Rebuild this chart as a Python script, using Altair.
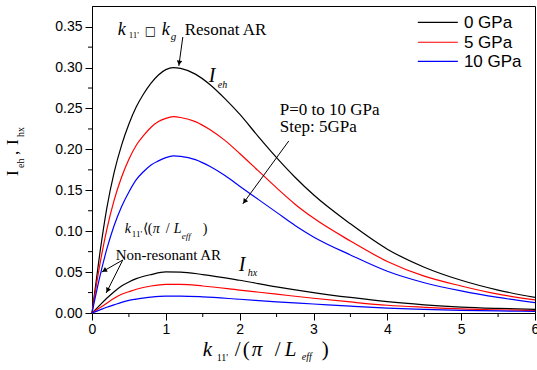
import math
import altair as alt
import pandas as pd

# ---------------- data ----------------
pressures = ["0 GPa", "5 GPa", "10 GPa"]
colors = ["#000000", "#ff0000", "#0000ff"]

x_eh = [0, 0.1, 0.2, 0.3, 0.4, 0.5, 0.6, 0.7, 0.8, 0.9, 1.0, 1.1, 1.2, 1.4, 1.6, 1.8,
        2.0, 2.25, 2.5, 2.75, 3.0, 3.5, 4.0, 4.5, 5.0, 5.5, 6.0]
ieh_0 = [0, 0.069, 0.128, 0.172, 0.205, 0.231, 0.252, 0.268, 0.281, 0.291, 0.2975,
         0.300, 0.299, 0.292, 0.279, 0.262, 0.243, 0.216, 0.190, 0.166, 0.1445,
         0.109, 0.078, 0.056, 0.040, 0.028, 0.019]
ieh_5 = [0, 0.056, 0.102, 0.138, 0.166, 0.188, 0.205, 0.217, 0.227, 0.234, 0.238,
         0.240, 0.239, 0.234, 0.224, 0.211, 0.195, 0.174, 0.153, 0.133, 0.116,
         0.088, 0.063, 0.045, 0.033, 0.023, 0.016]
ieh_10 = [0, 0.042, 0.078, 0.107, 0.130, 0.148, 0.163, 0.173, 0.181, 0.186, 0.190,
          0.192, 0.1915, 0.1875, 0.179, 0.168, 0.155, 0.139, 0.123, 0.107, 0.093,
          0.071, 0.051, 0.037, 0.027, 0.019, 0.0126]

x_hx = [0, 0.1, 0.2, 0.3, 0.4, 0.5, 0.6, 0.8, 1.0, 1.2, 1.5, 2.0, 2.5, 3.0, 3.5,
        4.0, 4.5, 5.0, 5.5, 6.0]
ihx_0 = [0, 0.009, 0.018, 0.026, 0.033, 0.038, 0.042, 0.047, 0.0502, 0.0500, 0.047,
         0.040, 0.032, 0.025, 0.019, 0.0138, 0.010, 0.0072, 0.0056, 0.0045]
ihx_5 = [0, 0.006, 0.012, 0.018, 0.023, 0.026, 0.029, 0.033, 0.035, 0.035, 0.033,
         0.028, 0.023, 0.018, 0.0135, 0.0095, 0.007, 0.005, 0.004, 0.003]
ihx_10 = [0, 0.0035, 0.007, 0.010, 0.013, 0.0155, 0.017, 0.0195, 0.0207, 0.0207,
          0.0198, 0.0168, 0.0136, 0.011, 0.0083, 0.006, 0.0045, 0.0033, 0.0025, 0.002]

x_ticks = [0, 1, 2, 3, 4, 5, 6]
x_minor = [0.5, 1.5, 2.5, 3.5, 4.5, 5.5]
y_ticks = [0.0, 0.05, 0.10, 0.15, 0.20, 0.25, 0.30, 0.35]
y_minor = [0.025, 0.075, 0.125, 0.175, 0.225, 0.275, 0.325]

# ---------------- layout ----------------
W, H = 443, 307
XMAX, YMAX = 6.0, 0.3753
SERIF = "Liberation Serif"
SANS = "Liberation Sans"

rows = []
for p, ys in zip(pressures, [ieh_0, ieh_5, ieh_10]):
    for xv, yv in zip(x_eh, ys):
        rows.append({"x": xv, "y": yv, "p": p, "kind": "eh"})
for p, ys in zip(pressures, [ihx_0, ihx_5, ihx_10]):
    for xv, yv in zip(x_hx, ys):
        rows.append({"x": xv, "y": yv, "p": p, "kind": "hx"})
df = pd.DataFrame(rows)

xs = alt.Scale(domain=[0, XMAX], nice=False, zero=False)
ys_ = alt.Scale(domain=[0, YMAX], nice=False, zero=False)
cs = alt.Scale(domain=pressures, range=colors)
ax_x = alt.Axis(values=x_ticks, format="d", title=None, tickSize=7, labelPadding=2,
                labelFlush=False)
ax_y = alt.Axis(values=y_ticks, format=".2f", title=None, tickSize=7, labelPadding=3,
                labelFlush=False)


def X(field):
    return alt.X(field, scale=xs, axis=ax_x, title=None)


def Y(field):
    return alt.Y(field, scale=ys_, axis=ax_y, title=None)


lines = alt.Chart(df).mark_line(strokeWidth=1.2, interpolate="monotone").encode(
    x=X("x:Q"), y=Y("y:Q"),
    color=alt.Color("p:N", scale=cs, legend=None),
    detail="kind:N",
)

minor_y = alt.Chart(pd.DataFrame({"v": y_minor})).mark_rule(color="black").encode(
    y=Y("v:Q"), x=alt.value(-4), x2=alt.value(0))
minor_x = alt.Chart(pd.DataFrame({"v": x_minor})).mark_rule(color="black").encode(
    x=X("v:Q"), y=alt.value(H), y2=alt.value(H + 4))

# legend (drawn by hand, in data coordinates)
leg = pd.DataFrame({"p": pressures, "x0": [4.413] * 3, "x1": [4.955] * 3,
                    "y": [0.3554, 0.3310, 0.3077], "tx": [5.037] * 3})
leg_lines = alt.Chart(leg).mark_rule(strokeWidth=1.2).encode(
    x=X("x0:Q"), x2="x1:Q", y=Y("y:Q"),
    color=alt.Color("p:N", scale=cs, legend=None))
leg_text = alt.Chart(leg).mark_text(align="left", baseline="middle", font=SANS,
                                    fontSize=17, color="black", dy=1).encode(
    x=X("tx:Q"), y=Y("y:Q"), text="p:N")

# arrows
arrows = pd.DataFrame({
    "x0": [1.230, 2.665, 0.417, 0.417],
    "y0": [0.3374, 0.2103, 0.0648, 0.0648],
    "x1": [1.176, 2.042, 0.131, 0.192],
    "y1": [0.302, 0.1333, 0.050, 0.0244],
})
sx, sy = W / XMAX, H / YMAX
angs, hx, hy = [], [], []
for a, b, c, d in zip(arrows.x0, arrows.y0, arrows.x1, arrows.y1):
    dxp = (c - a) * sx
    dyp = -(d - b) * sy
    ang = math.degrees(math.atan2(dxp, -dyp)) % 360
    L = math.hypot(dxp, dyp)
    back = 3.0
    hx.append(c - (dxp / L) * back / sx)
    hy.append(d + (dyp / L) * back / sy)
    angs.append(ang)
arrows["ang"] = angs
arrows["hx"] = hx
arrows["hy"] = hy

arrow_lines = alt.Chart(arrows).mark_rule(color="black", strokeWidth=1).encode(
    x=X("x0:Q"), y=Y("y0:Q"), x2="x1:Q", y2="y1:Q")
arrow_heads = alt.Chart(arrows).mark_point(shape="triangle-up", filled=True,
                                           color="black", opacity=1, size=30).encode(
    x=X("hx:Q"), y=Y("hy:Q"), angle=alt.Angle("ang:Q", scale=None))

# text pieces: (text, x, y, size, font, italic, angle)
pieces = [
    # resonant annotation
    ("k", 0.348, 0.3399, 18, SERIF, True, 0),
    ("11'", 0.497, 0.3356, 9, SERIF, False, 0),
    ("\u25a1", 0.714, 0.3399, 12, "DejaVu Sans", False, 0),
    ("k", 0.944, 0.3399, 18, SERIF, True, 0),
    ("g", 1.066, 0.3343, 11, SERIF, True, 0),
    ("Resonat AR", 1.256, 0.3399, 17, SERIF, False, 0),
    # I_eh
    ("I", 1.581, 0.2824, 20, SERIF, True, 0),
    ("eh", 1.703, 0.2751, 10, SERIF, True, 0),
    # pressure note
    ("P=0 to 10 GPa", 2.543, 0.2425, 17, SERIF, False, 0),
    ("Step: 5GPa", 2.543, 0.2210, 17, SERIF, False, 0),
    # k11' < (pi/Leff)
    ("k", 0.444, 0.0978, 14, SERIF, True, 0),
    ("11'", 0.539, 0.0929, 9, SERIF, False, 0),
    ("\u27e8(", 0.687, 0.0978, 14, SERIF, False, 0),
    ("\u03c0", 0.822, 0.0978, 14, SERIF, True, 0),
    ("/", 0.998, 0.0978, 14, SERIF, False, 0),
    ("L", 1.107, 0.0978, 14, SERIF, True, 0),
    ("eff", 1.217, 0.0905, 9, SERIF, True, 0),
    (")", 1.499, 0.0978, 14, SERIF, False, 0),
    ("Non-resonant AR", 0.321, 0.0642, 15, SERIF, False, 0),
    # I_hx
    ("I", 1.987, 0.0513, 20, SERIF, True, 0),
    ("hx", 2.109, 0.0452, 10, SERIF, True, 0),
    # x axis title
    ("k", 1.500, -0.0526, 21, SERIF, True, 0),
    ("11'", 1.689, -0.0587, 10, SERIF, False, 0),
    ("/", 1.933, -0.0526, 21, SERIF, False, 0),
    ("(", 2.042, -0.0526, 21, SERIF, False, 0),
    ("\u03c0", 2.164, -0.0526, 21, SERIF, True, 0),
    ("/", 2.475, -0.0526, 21, SERIF, False, 0),
    ("L", 2.610, -0.0526, 21, SERIF, True, 0),
    ("eff", 2.841, -0.0575, 10, SERIF, True, 0),
    (")", 3.112, -0.0526, 21, SERIF, False, 0),
    # y axis title (rotated)
    ("I", -1.000, 0.1675, 17, SERIF, False, 270),
    ("eh", -0.925, 0.1773, 10, SERIF, False, 270),
    (",", -1.000, 0.1932, 17, SERIF, False, 270),
    ("I", -1.000, 0.2054, 17, SERIF, False, 270),
    ("hx", -0.925, 0.2152, 10, SERIF, False, 270),
]
tdf = pd.DataFrame(pieces, columns=["t", "x", "y", "size", "font", "italic", "angle"])

text_layers = []
for (font, italic), g in tdf.groupby(["font", "italic"]):
    text_layers.append(
        alt.Chart(g).mark_text(align="left", baseline="alphabetic", font=font,
                               fontStyle="italic" if italic else "normal",
                               color="black").encode(
            x=X("x:Q"), y=Y("y:Q"),
            text="t:N",
            size=alt.Size("size:Q", scale=None),
            angle=alt.Angle("angle:Q", scale=None),
        ))

chart = alt.layer(lines, minor_y, minor_x, leg_lines, leg_text, arrow_lines,
                  arrow_heads, *text_layers).properties(
    width=W, height=H,
    autosize=alt.AutoSizeParams(type="none"),
    padding={"left": 92, "top": 6, "right": 2, "bottom": 57},
    background="white",
).configure_view(stroke="black", strokeWidth=1).configure_axis(
    domainColor="black", tickColor="black", labelColor="black", labelFont=SANS,
    labelFontSize=14, grid=False, domainWidth=1, tickWidth=1,
)

chart.save("out.html", embed_options={"renderer": "svg", "actions": False})
